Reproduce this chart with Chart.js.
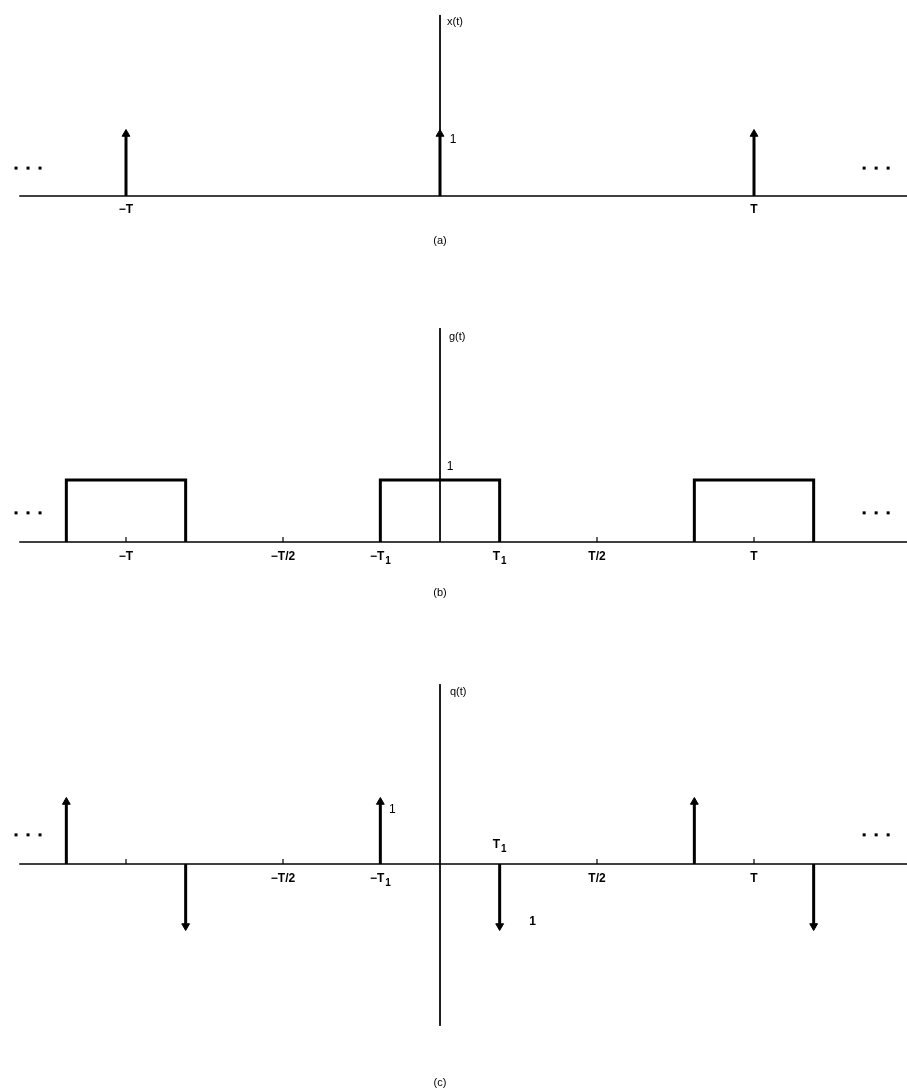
<!DOCTYPE html>
<html>
<head>
<meta charset="utf-8">
<script src="https://cdn.jsdelivr.net/npm/chart.js@4.4.0/dist/chart.umd.min.js"></script>
<style>
  html, body { margin: 0; padding: 0; background: #fff; }
  #wrap { position: relative; width: 907px; height: 1091px; }
  canvas { position: absolute; left: 0; }
</style>
</head>
<body>
<div id="wrap">
  <canvas id="chartA" width="907" height="260" style="top:0px"></canvas>
  <canvas id="chartB" width="907" height="350" style="top:260px"></canvas>
  <canvas id="chartC" width="907" height="481" style="top:610px"></canvas>
</div>
<script>
// time axis is in units of the period T

// (a) impulse train x(t)
const impulseTimesA = [-1, 0, 1];
const impulseAreasA = [1, 1, 1];
const tickValuesA = [-1, 1];
const tickLabelsA = ['−T', 'T'];

// (b) square wave g(t)
const pulseStarts = [-1.19, -0.19, 0.81];
const pulseEnds = [-0.81, 0.19, 1.19];
const pulseLevels = [1, 1, 1];
const tickValuesB = [-1, -0.5, -0.19, 0.19, 0.5, 1];
const tickLabelsB = ['−T', '−T/2', '−T_1', 'T_1', 'T/2', 'T'];

// (c) derivative q(t)
const impulseTimesC = [-1.19, -0.81, -0.19, 0.19, 0.81, 1.19];
const impulseAreasC = [1, -1, 1, -1, 1, -1];
const tickValuesC = [-1, -0.5, -0.19, 0.5, 1];
const tickLabelsC = ['', '−T/2', '−T_1', 'T/2', 'T'];

const axisStart = -1.34;
const axisEnd = 1.49;

// layout
const W = 907, ORIGIN_X = 440, PX_PER_T = 314, PX_PER_UNIT = 62;
const FONT = '"Liberation Sans", Arial, sans-serif';

function yLimits(axisY, h) {
  return { min: -(h - axisY) / PX_PER_UNIT, max: axisY / PX_PER_UNIT };
}

function impulseData(times, areas) {
  const pts = [];
  times.forEach((t, i) => {
    pts.push({ x: t, y: 0 }, { x: t, y: areas[i] }, { x: t, y: null });
  });
  return pts;
}

function pulseData(starts, ends, levels) {
  const pts = [];
  starts.forEach((s, i) => {
    pts.push({ x: s, y: 0 }, { x: s, y: levels[i] }, { x: ends[i], y: levels[i] }, { x: ends[i], y: 0 }, { x: ends[i], y: null });
  });
  return pts;
}

function axisSets(vTop, vBottom) {
  return [
    { data: [{ x: axisStart, y: 0 }, { x: axisEnd, y: 0 }], borderColor: '#000', borderWidth: 1.6, pointRadius: 0 },
    { data: [{ x: 0, y: vTop }, { x: 0, y: vBottom }], borderColor: '#000', borderWidth: 1, pointRadius: 0 }
  ];
}

function impulseSet(times, areas) {
  return {
    data: impulseData(times, areas),
    borderColor: '#000',
    backgroundColor: '#000',
    borderWidth: 3,
    spanGaps: false,
    pointStyle: 'triangle',
    pointRadius: ctx => (ctx.raw && ctx.raw.y !== 0 && ctx.raw.y !== null) ? 4.5 : 0,
    pointRotation: ctx => (ctx.raw && ctx.raw.y < 0) ? 180 : 0,
    pointBorderWidth: 1
  };
}

function drawLabel(ctx, text, cx, cy, align, size, weight) {
  const parts = text.split('_');
  const main = parts[0], sub = parts[1] || '';
  const w = weight ? weight + ' ' : '';
  const mainFont = w + size + 'px ' + FONT;
  const subFont = w + Math.round(size * 0.8) + 'px ' + FONT;
  ctx.font = mainFont;
  const w1 = ctx.measureText(main).width;
  ctx.font = subFont;
  const w2 = sub ? ctx.measureText(sub).width + 1 : 0;
  let left = cx - (w1 + w2) / 2;
  if (align === 'left') left = cx;
  ctx.textBaseline = 'middle';
  ctx.textAlign = 'left';
  ctx.font = mainFont;
  ctx.fillText(main, left, cy);
  if (sub) {
    ctx.font = subFont;
    ctx.fillText(sub, left + w1 + 1, cy + 4);
  }
}

const sketchText = {
  id: 'sketchText',
  afterDatasetsDraw(chart, args, opts) {
    const { ctx } = chart;
    const x = chart.scales.x, y = chart.scales.y;
    const y0 = y.getPixelForValue(0);
    ctx.save();
    ctx.fillStyle = '#000';
    ctx.strokeStyle = '#000';
    ctx.lineWidth = 1.2;
    (opts.tickValues || []).forEach((v, i) => {
      const px = x.getPixelForValue(v);
      ctx.beginPath();
      ctx.moveTo(px, y0);
      ctx.lineTo(px, y0 - opts.tickLen);
      ctx.stroke();
      if (opts.tickLabels[i]) drawLabel(ctx, opts.tickLabels[i], px, y0 + opts.labelGap, 'center', 12, 'bold');
    });
    (opts.notes || []).forEach(n => {
      drawLabel(ctx, n.text, x.getPixelForValue(n.x) + (n.dx || 0), y.getPixelForValue(n.y) + (n.dy || 0), n.align || 'center', n.size || 12, n.weight);
    });
    (opts.dots || []).forEach(d => {
      const px = x.getPixelForValue(d.x), py = y.getPixelForValue(d.y);
      [-12, 0, 12].forEach(off => ctx.fillRect(px + off - 1.5, py - 1.5, 3, 3));
    });
    ctx.restore();
  }
};

function makeChart(id, height, axisY, datasets, textOpts) {
  const lim = yLimits(axisY, height);
  return new Chart(document.getElementById(id), {
    type: 'line',
    data: { datasets: datasets.map(d => Object.assign({ clip: false, tension: 0 }, d)) },
    options: {
      responsive: false,
      maintainAspectRatio: false,
      animation: false,
      layout: { padding: 0 },
      events: [],
      plugins: { legend: { display: false }, tooltip: { enabled: false }, sketchText: textOpts },
      scales: {
        x: { type: 'linear', min: -ORIGIN_X / PX_PER_T, max: (W - ORIGIN_X) / PX_PER_T, display: false },
        y: { type: 'linear', min: lim.min, max: lim.max, display: false }
      }
    },
    plugins: [sketchText]
  });
}

// (a)
makeChart('chartA', 260, 196,
  axisSets(2.92, 0).concat([impulseSet(impulseTimesA, impulseAreasA)]),
  {
    tickValues: tickValuesA, tickLabels: tickLabelsA, tickLen: 0, labelGap: 14,
    notes: [
      { text: 'x(t)', x: 0, y: 2.92, dx: 7, dy: 7, align: 'left', size: 11 },
      { text: '1', x: 0, y: 1, dx: 13, dy: 6 },
      { text: '(a)', x: 0, y: -0.73, size: 11 }
    ],
    dots: [{ x: -1.312, y: 0.45 }, { x: 1.389, y: 0.45 }]
  });

// (b)
makeChart('chartB', 350, 282,
  axisSets(3.45, 0).concat([{
    data: pulseData(pulseStarts, pulseEnds, pulseLevels),
    borderColor: '#000', borderWidth: 3, pointRadius: 0, spanGaps: false, borderJoinStyle: 'miter'
  }]),
  {
    tickValues: tickValuesB, tickLabels: tickLabelsB, tickLen: 5, labelGap: 15,
    notes: [
      { text: 'g(t)', x: 0, y: 3.45, dx: 9, dy: 9, align: 'left', size: 11 },
      { text: '1', x: 0, y: 1, dx: 10, dy: -13 },
      { text: '(b)', x: 0, y: -0.82, size: 11 }
    ],
    dots: [{ x: -1.312, y: 0.47 }, { x: 1.389, y: 0.47 }]
  });

// (c)
makeChart('chartC', 481, 254,
  axisSets(2.9, -2.61).concat([impulseSet(impulseTimesC, impulseAreasC)]),
  {
    tickValues: tickValuesC, tickLabels: tickLabelsC, tickLen: 5, labelGap: 15,
    notes: [
      { text: 'q(t)', x: 0, y: 2.9, dx: 10, dy: 8, align: 'left', size: 11 },
      { text: '1', x: -0.19, y: 1, dx: 12, dy: 8 },
      { text: '1', x: 0.19, y: -1, dx: 33, dy: -4, weight: 'bold' },
      { text: 'T_1', x: 0.19, y: 0, dx: 0, dy: -19, weight: 'bold' },
      { text: '(c)', x: 0, y: -3.53, size: 11 }
    ],
    dots: [{ x: -1.312, y: 0.47 }, { x: 1.389, y: 0.47 }]
  });
</script>
</body>
</html>
